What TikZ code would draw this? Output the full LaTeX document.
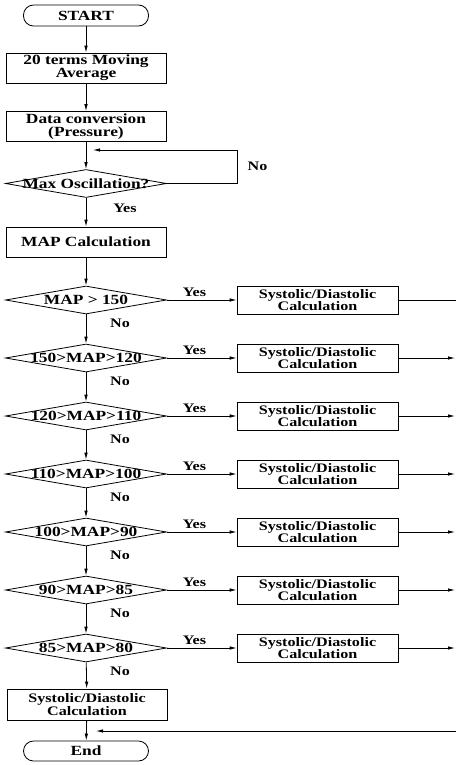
\documentclass[tikz,border=0pt]{standalone}
\usepackage{fontspec}
\setmainfont{Liberation Serif}[FakeStretch=1.24]
\usetikzlibrary{arrows.meta,positioning,shapes.geometric}

\begin{document}
\begin{tikzpicture}[x=1pt,y=-1pt,line width=0.8pt,
every node/.style={font=\bfseries\fontsize{14}{13}\selectfont,inner sep=0pt},
term/.style={draw,rounded corners=10pt,minimum width=125pt,minimum height=21pt},
proc/.style={draw,align=center,minimum width=160pt,minimum height=30pt},
calcbox/.style={draw,align=center,minimum width=161pt,minimum height=28pt,
  font=\bfseries\fontsize{13}{10.5}\selectfont},
dec/.style={draw,diamond,minimum width=161pt,minimum height=28pt},
lbl/.style={font=\bfseries\fontsize{13}{12}\selectfont},
arr/.style={-{Latex[length=7pt,width=3.5pt]}}]
\useasboundingbox (0,0) rectangle (456,765);
\node[term] (S) at (86,15.5) {START};
\node[proc] (P1) at (86,68) {20 terms Moving\\Average};
\node[proc] (P2) at (86,126.5) {Data conversion\\(Pressure)};
\node[dec] (D0) at (86,183.5) {\makebox[0pt]{Max Oscillation?}};
\node[proc] (P3) at (86,242) {MAP Calculation};
\node[dec] (D1) at (86,300) {\makebox[0pt]{MAP > 150}};
\node[dec] (D2) at (86,358) {\makebox[0pt]{150>MAP>120}};
\node[dec] (D3) at (86,416) {\makebox[0pt]{120>MAP>110}};
\node[dec] (D4) at (86,474) {\makebox[0pt]{110>MAP>100}};
\node[dec] (D5) at (86,532) {\makebox[0pt]{100>MAP>90}};
\node[dec] (D6) at (86,590) {\makebox[0pt]{90>MAP>85}};
\node[dec] (D7) at (86,648) {\makebox[0pt]{85>MAP>80}};
\node[calcbox] (C1) at (317.5,300) {Systolic/Diastolic\\Calculation};
\node[calcbox] (C2) at (317.5,358) {Systolic/Diastolic\\Calculation};
\node[calcbox] (C3) at (317.5,416) {Systolic/Diastolic\\Calculation};
\node[calcbox] (C4) at (317.5,474) {Systolic/Diastolic\\Calculation};
\node[calcbox] (C5) at (317.5,532) {Systolic/Diastolic\\Calculation};
\node[calcbox] (C6) at (317.5,590) {Systolic/Diastolic\\Calculation};
\node[calcbox] (C7) at (317.5,648) {Systolic/Diastolic\\Calculation};
\node[proc,minimum height=31pt,font=\bfseries\fontsize{13}{10.5}\selectfont] (C8) at (87,704.5) {Systolic/Diastolic\\Calculation};
\node[term,minimum height=20pt] (E) at (86,751) {End};
% loop back and return line
\coordinate (L1) at (237,183.5);
\coordinate (L2) at (237,150);
\coordinate (L3) at (93,150);
\coordinate (R0) at (456,300);
\coordinate (R2) at (455,358);
\coordinate (R3) at (455,416);
\coordinate (R4) at (455,474);
\coordinate (R5) at (455,532);
\coordinate (R6) at (455,590);
\coordinate (R7) at (455,648);
\coordinate (R8) at (456,731);
\coordinate (R9) at (96,731);
\draw[arr] (S)--(P1);
\draw[arr] (P1)--(P2);
\draw[arr] (P2)--(D0);
\draw[arr] (D0.east)--(L1)--(L2)--(L3);
\draw[arr] (D0)--(P3);
\draw[arr] (P3)--(D1);
\draw[arr] (D1)--(D2);
\draw[arr] (D2)--(D3);
\draw[arr] (D3)--(D4);
\draw[arr] (D4)--(D5);
\draw[arr] (D5)--(D6);
\draw[arr] (D6)--(D7);
\draw[arr] (D7)--(C8);
\draw[arr] (C8)--(E);
\draw[arr] (D1)--(C1);
\draw[arr] (D2)--(C2);
\draw[arr] (D3)--(C3);
\draw[arr] (D4)--(C4);
\draw[arr] (D5)--(C5);
\draw[arr] (D6)--(C6);
\draw[arr] (D7)--(C7);
\draw (C1)--(R0);
\draw[arr] (C2)--(R2);
\draw[arr] (C3)--(R3);
\draw[arr] (C4)--(R4);
\draw[arr] (C5)--(R5);
\draw[arr] (C6)--(R6);
\draw[arr] (C7)--(R7);
\draw[arr] (R8)--(R9);
% labels
\node[lbl] (N0) at (257.5,166.5) {No};
\node[lbl] (Y0) at (125,208) {Yes};
\node[lbl] (Y1) at (194.5,292) {Yes};
\node[lbl] (Y2) at (194.5,350) {Yes};
\node[lbl] (Y3) at (194.5,408) {Yes};
\node[lbl] (Y4) at (194.5,466) {Yes};
\node[lbl] (Y5) at (194.5,524) {Yes};
\node[lbl] (Y6) at (194.5,582) {Yes};
\node[lbl] (Y7) at (194.5,640) {Yes};
\node[lbl] (N1) at (120,323.5) {No};
\node[lbl] (N2) at (120,381.5) {No};
\node[lbl] (N3) at (120,439.5) {No};
\node[lbl] (N4) at (120,497.5) {No};
\node[lbl] (N5) at (120,555.5) {No};
\node[lbl] (N6) at (120,613.5) {No};
\node[lbl] (N7) at (120,671.5) {No};
\end{tikzpicture}
\end{document}
